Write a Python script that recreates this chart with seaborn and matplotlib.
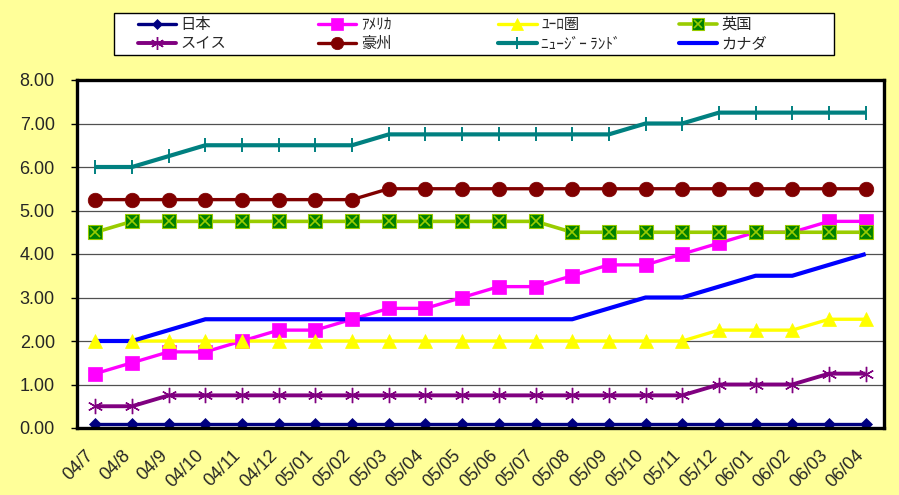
import matplotlib
matplotlib.use("Agg")
import matplotlib.pyplot as plt
import matplotlib.transforms as mtransforms
from matplotlib.lines import Line2D
from matplotlib.legend_handler import HandlerTuple
from matplotlib.patches import Rectangle
import seaborn as sns

# Policy rates by month (%)
months = ["04/7", "04/8", "04/9", "04/10", "04/11", "04/12", "05/01", "05/02",
          "05/03", "05/04", "05/05", "05/06", "05/07", "05/08", "05/09", "05/10",
          "05/11", "05/12", "06/01", "06/02", "06/03", "06/04"]

japan = [0.10, 0.10, 0.10, 0.10, 0.10, 0.10, 0.10, 0.10, 0.10, 0.10, 0.10,
         0.10, 0.10, 0.10, 0.10, 0.10, 0.10, 0.10, 0.10, 0.10, 0.10, 0.10]
america = [1.25, 1.50, 1.75, 1.75, 2.00, 2.25, 2.25, 2.50, 2.75, 2.75, 3.00,
           3.25, 3.25, 3.50, 3.75, 3.75, 4.00, 4.25, 4.50, 4.50, 4.75, 4.75]
euro = [2.00, 2.00, 2.00, 2.00, 2.00, 2.00, 2.00, 2.00, 2.00, 2.00, 2.00,
        2.00, 2.00, 2.00, 2.00, 2.00, 2.00, 2.25, 2.25, 2.25, 2.50, 2.50]
uk = [4.50, 4.75, 4.75, 4.75, 4.75, 4.75, 4.75, 4.75, 4.75, 4.75, 4.75,
      4.75, 4.75, 4.50, 4.50, 4.50, 4.50, 4.50, 4.50, 4.50, 4.50, 4.50]
swiss = [0.50, 0.50, 0.75, 0.75, 0.75, 0.75, 0.75, 0.75, 0.75, 0.75, 0.75,
         0.75, 0.75, 0.75, 0.75, 0.75, 0.75, 1.00, 1.00, 1.00, 1.25, 1.25]
australia = [5.25, 5.25, 5.25, 5.25, 5.25, 5.25, 5.25, 5.25, 5.50, 5.50, 5.50,
             5.50, 5.50, 5.50, 5.50, 5.50, 5.50, 5.50, 5.50, 5.50, 5.50, 5.50]
new_zealand = [6.00, 6.00, 6.25, 6.50, 6.50, 6.50, 6.50, 6.50, 6.75, 6.75, 6.75,
               6.75, 6.75, 6.75, 6.75, 7.00, 7.00, 7.25, 7.25, 7.25, 7.25, 7.25]
canada = [2.00, 2.00, 2.25, 2.50, 2.50, 2.50, 2.50, 2.50, 2.50, 2.50, 2.50,
          2.50, 2.50, 2.50, 2.75, 3.00, 3.00, 3.25, 3.50, 3.50, 3.75, 4.00]

series_names = ["日本", "ｱﾒﾘｶ", "ﾕｰﾛ圏", "英国", "スイス", "豪州", "ﾆｭｰｼﾞｰ ﾗﾝﾄﾞ", "カナダ"]
series_values = [japan, america, euro, uk, swiss, australia, new_zealand, canada]
y_ticks = [0, 1, 2, 3, 4, 5, 6, 7, 8]

# Drawing styles, one per series
asterisk = (6, 2, 0)
styles = [
    dict(color="#000080", lw=2.4, marker="D", ms=6.2, mfc="#000080", mec="#000080", mew=0.5),
    dict(color="#FF00FF", lw=2.4, marker="s", ms=9.5, mfc="#FF00FF", mec="#FF00FF", mew=0.5),
    dict(color="#FFFF00", lw=2.4, marker="^", ms=10.5, mfc="#FFFF00", mec="#FFFF00", mew=0.5),
    dict(color="#99CC00", lw=2.6, marker="s", ms=10, mfc="#008000", mec="#99CC00", mew=0.8),
    dict(color="#800080", lw=2.8, marker=asterisk, ms=11, mfc="#800080", mec="#800080", mew=1.0),
    dict(color="#800000", lw=2.4, marker="o", ms=10.5, mfc="#800000", mec="#800000", mew=0.5),
    dict(color="#008080", lw=3.0, marker="|", ms=10, mfc="#008080", mec="#008080", mew=1.4),
    dict(color="#0000FF", lw=3.0, marker=None, ms=0, mfc="#0000FF", mec="#0000FF", mew=0),
]
uk_cross = dict(marker="x", ms=7.5, mec="#99CC00", mew=1.2)

sns.set_theme(style="white")
plt.rcParams["font.family"] = ["Noto Sans CJK JP", "DejaVu Sans"]

bg = "#FFFF99"
fig = plt.figure(figsize=(8.99, 4.95), dpi=100, facecolor=bg)
ax = fig.add_axes([77 / 899, 67 / 495, 807 / 899, 348 / 495])
ax.set_facecolor("white")

x = list(range(len(months)))

# lines first, then markers on top (chart-style draw order)
for vals, st in zip(series_values, styles):
    sns.lineplot(x=x, y=vals, ax=ax, color=st["color"], linewidth=st["lw"],
                 errorbar=None, legend=False, zorder=3, solid_capstyle="butt")
for i, (vals, st) in enumerate(zip(series_values, styles)):
    if st["marker"] is None:
        continue
    sns.lineplot(x=x, y=vals, ax=ax, linestyle="none", marker=st["marker"],
                 markersize=st["ms"], markerfacecolor=st["mfc"],
                 markeredgecolor=st["mec"], markeredgewidth=st["mew"],
                 errorbar=None, legend=False, zorder=4 + i * 0.1)
    if i == 3:
        sns.lineplot(x=x, y=vals, ax=ax, linestyle="none", marker=uk_cross["marker"],
                     markersize=uk_cross["ms"], markeredgecolor=uk_cross["mec"],
                     markeredgewidth=uk_cross["mew"], errorbar=None, legend=False,
                     zorder=4 + i * 0.1 + 0.05)

ax.set_xlim(-0.5, len(months) - 0.5)
ax.set_ylim(0, 8)
ax.set_xlabel("")
ax.set_ylabel("")
ax.tick_params(axis="y", length=4, width=1, color="black", pad=12, left=True)
ax.tick_params(axis="x", length=0, pad=18)
ax.set_yticks(y_ticks)
ax.set_yticklabels([f"{v:.2f}" for v in y_ticks], fontfamily="Liberation Sans", fontsize=13)
ax.set_xticks(x)
ax.set_xticklabels(months, fontfamily="Liberation Sans", fontsize=13,
                   rotation=45, ha="right", va="center", rotation_mode="anchor")
# nudge the slanted month labels slightly left of their category
shift = mtransforms.ScaledTranslation(-3 / 72, 0, fig.dpi_scale_trans)
for lab in ax.get_xticklabels():
    lab.set_transform(lab.get_transform() + shift)

for yv in y_ticks[1:-1]:
    ax.axhline(yv, color="#505050", lw=0.9, zorder=1)
for sp in ax.spines.values():
    sp.set_visible(True)
    sp.set_color("black")
    sp.set_linewidth(2.4)
    sp.set_zorder(6)

# legend box
fig.patches.append(Rectangle((114 / 899, 1 - 55 / 495), 720 / 899, 42 / 495,
                             transform=fig.transFigure, facecolor="white",
                             edgecolor="black", lw=1.0, zorder=1))


def make_handle(i):
    st = styles[i]
    h = Line2D([], [], color=st["color"], lw=st["lw"], marker=st["marker"],
               markersize=st["ms"] * 0.85, markerfacecolor=st["mfc"],
               markeredgecolor=st["mec"], markeredgewidth=st["mew"])
    if i == 3:
        c = Line2D([], [], linestyle="none", marker=uk_cross["marker"],
                   markersize=uk_cross["ms"] * 0.85, markeredgecolor=uk_cross["mec"],
                   markeredgewidth=uk_cross["mew"])
        return (h, c)
    return h


for col in range(4):
    idx = [col, col + 4]
    leg = fig.legend([make_handle(i) for i in idx], [series_names[i] for i in idx],
                     loc="upper left",
                     bbox_to_anchor=((137.6 + col * 180.4) / 899, 1 - 16 / 495),
                     bbox_transform=fig.transFigure, frameon=False, fontsize=11,
                     handlelength=2.5, handletextpad=0.3, labelspacing=0.15,
                     borderpad=0, borderaxespad=0, numpoints=1,
                     handler_map={tuple: HandlerTuple(ndivide=1)})
    leg.set_zorder(5)

fig.savefig("out.png", dpi=100, facecolor=bg)
